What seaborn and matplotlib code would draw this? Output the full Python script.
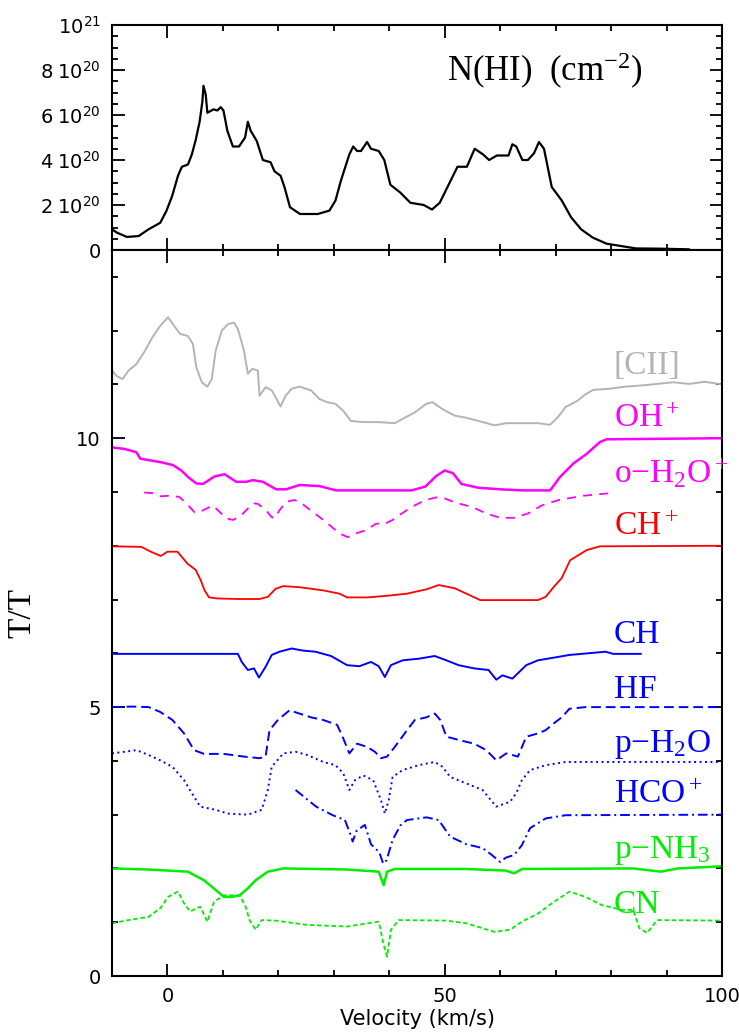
import matplotlib
matplotlib.use("Agg")
import numpy as np
import pandas as pd
import matplotlib.pyplot as plt
import seaborn as sns
from matplotlib.ticker import MultipleLocator, FixedLocator

# ---------------- data (velocity km/s, value) ----------------
nhi_pts = [(-10, 0.92), (-9.1, 0.77), (-7.3, 0.58), (-5.2, 0.62), (-3.4, 0.92), (-1.3, 1.21),
           (-0.2, 1.73), (0.85, 2.4), (1.9, 3.3), (2.6, 3.7), (3.7, 3.8), (4.4, 4.25), (5.1, 4.9),
           (5.8, 5.7), (6.3, 6.6), (6.5, 7.3), (6.9, 6.9), (7.2, 6.1), (8.3, 6.25), (9.0, 6.2),
           (9.6, 6.35), (10.1, 6.2), (10.8, 5.3), (11.8, 4.6), (12.9, 4.6), (14.0, 5.0), (14.5, 5.7),
           (15.0, 5.3), (16.1, 4.85), (17.2, 4.0), (18.6, 3.9), (19.3, 3.5), (20.4, 3.3), (21.1, 2.8),
           (22.1, 1.9), (23.9, 1.6), (27.1, 1.6), (29.2, 1.75), (30.3, 2.2), (31.3, 3.1), (32.8, 4.25),
           (33.5, 4.6), (34.2, 4.4), (34.9, 4.4), (36.0, 4.8), (36.7, 4.5), (38.1, 4.4), (39.1, 4.0),
           (40.2, 2.9), (42.0, 2.55), (43.8, 2.1), (46.2, 2.0), (47.7, 1.8), (49.1, 2.1), (50.5, 2.8),
           (52.3, 3.7), (54.0, 3.7), (55.4, 4.5), (56.9, 4.25), (58.0, 4.0), (59.4, 4.2), (61.5, 4.2),
           (62.2, 4.7), (62.9, 4.6), (64.0, 4.0), (65.0, 4.0), (66.1, 4.3), (67.0, 4.8), (67.9, 4.5),
           (69.3, 2.8), (71.1, 2.2), (72.8, 1.45), (74.6, 0.92), (76.7, 0.55), (79.2, 0.28),
           (81.7, 0.18), (84.5, 0.07), (88.8, 0.06), (94.1, 0.03)]   # units of 1e20 cm^-2

cii_pts = [(-10, 11.26), (-9.2, 11.16), (-8.1, 11.1), (-7.0, 11.26), (-5.6, 11.38), (-4.2, 11.6),
           (-2.7, 11.88), (-1.3, 12.09), (0.1, 12.25), (1.2, 12.09), (2.3, 11.94), (3.7, 11.9),
           (4.6, 11.75), (5.2, 11.32), (6.2, 11.04), (7.2, 10.96), (8.0, 11.1), (8.7, 11.63),
           (9.8, 12.0), (10.9, 12.12), (12.0, 12.15), (12.7, 12.03), (13.8, 11.63), (14.5, 11.2),
           (15.3, 11.29), (16.3, 11.26), (16.6, 10.79), (17.7, 10.95), (18.8, 10.89), (19.5, 10.76),
           (20.4, 10.59), (21.3, 10.79), (22.4, 10.92), (23.8, 10.96), (25.9, 10.89), (27.4, 10.73),
           (28.8, 10.67), (30.3, 10.64), (31.7, 10.51), (33.1, 10.32), (35.3, 10.3), (38.1, 10.3),
           (41.0, 10.28), (42.4, 10.36), (44.6, 10.48), (46.7, 10.64), (47.8, 10.67), (49.6, 10.54),
           (51.8, 10.42), (53.9, 10.38), (56.1, 10.32), (59.0, 10.24), (61.1, 10.28), (64.0, 10.28),
           (66.8, 10.28), (69.0, 10.25), (70.4, 10.39), (71.8, 10.58), (74.0, 10.7), (75.4, 10.82),
           (76.8, 10.9), (79.7, 10.92), (82.6, 10.96), (85.4, 10.98), (88.3, 11.01), (91.2, 11.04),
           (94.1, 11.01), (96.9, 11.05), (100, 11.0)]

ohp_pts = [(-10, 9.83), (-7.7, 9.8), (-5.6, 9.74), (-4.9, 9.62), (-1, 9.55), (1, 9.5), (2.5, 9.4),
           (3.7, 9.28), (5.2, 9.16), (6.4, 9.15), (8.5, 9.29), (10.3, 9.33), (12.4, 9.19), (14.2, 9.19),
           (15.4, 9.22), (17.2, 9.19), (19.6, 9.05), (21.4, 9.05), (23.8, 9.13), (27.4, 9.11),
           (30.4, 9.03), (33.4, 9.03), (44, 9.03), (46.5, 9.1), (48.5, 9.3), (50, 9.4), (51.5, 9.35),
           (53, 9.15), (56, 9.08), (60, 9.05), (64, 9.03), (69, 9.03), (70.8, 9.28), (73.2, 9.53),
           (75.6, 9.71), (78, 9.93), (79.2, 9.98), (100, 10.0)]

oh2op_pts = [(-4.2, 8.99), (-2.7, 8.98), (-1.2, 8.92), (0.3, 8.93), (2.1, 8.91), (3.4, 8.79),
             (4.9, 8.62), (5.8, 8.63), (7.0, 8.69), (8.2, 8.75), (9.4, 8.63), (10.6, 8.51),
             (11.8, 8.48), (13.0, 8.54), (14.2, 8.66), (15.4, 8.79), (16.3, 8.78), (17.8, 8.66),
             (18.7, 8.54), (19.3, 8.51), (20.2, 8.66), (21.4, 8.82), (22.9, 8.85), (23.8, 8.82),
             (26.2, 8.63), (28.6, 8.44), (31.0, 8.23), (32.5, 8.16), (34.0, 8.23), (35.8, 8.29),
             (37.6, 8.41), (39.4, 8.42), (40.6, 8.48), (41.8, 8.57), (44, 8.72), (46.5, 8.85),
             (48.5, 8.9), (50, 8.88), (52, 8.8), (55, 8.72), (57.5, 8.6), (60, 8.52), (62.5, 8.52),
             (65, 8.6), (67.5, 8.75), (70.5, 8.85), (75, 8.93), (80, 8.98)]

chp_pts = [(-10, 7.99), (-4.7, 7.98), (-3.0, 7.89), (-1.2, 7.81), (0, 7.89), (1.8, 7.89), (3.6, 7.67),
           (5.1, 7.55), (6.0, 7.36), (6.7, 7.17), (7.5, 7.04), (9, 7.02), (13.0, 7.01), (16.6, 7.01),
           (18.1, 7.05), (19.5, 7.2), (20.9, 7.25), (23.8, 7.23), (28.1, 7.17), (31.0, 7.11),
           (32.4, 7.04), (36.0, 7.04), (39.6, 7.07), (43.2, 7.11), (46.7, 7.19), (48.9, 7.27),
           (51.8, 7.21), (53.9, 7.11), (56.4, 6.99), (60.4, 6.99), (66.8, 6.99), (68.2, 7.05),
           (69.7, 7.24), (71.1, 7.4), (72.6, 7.73), (75.6, 7.92), (78, 7.99), (100, 8.0)]

ch_pts = [(-10, 5.99), (12.7, 5.99), (13.4, 5.84), (14.5, 5.69), (15.6, 5.72), (16.5, 5.55),
          (17.7, 5.75), (18.8, 5.97), (20.2, 6.03), (22.4, 6.09), (24.5, 6.05), (26.7, 6.03),
          (29.5, 5.95), (32.4, 5.78), (34.6, 5.76), (36.7, 5.84), (38.1, 5.76), (39.2, 5.56),
          (40.3, 5.78), (42.4, 5.87), (45.3, 5.9), (48.2, 5.95), (50.3, 5.87), (52.5, 5.78),
          (55.3, 5.72), (57.9, 5.69), (59.3, 5.51), (60.4, 5.59), (62.2, 5.53), (64.7, 5.78),
          (66.8, 5.87), (69.7, 5.92), (72.5, 5.97), (79.0, 6.03), (80.4, 5.99), (85.4, 5.99)]

hf_pts = [(-10, 5.0), (-6.3, 5.01), (-3.4, 5.0), (-1.3, 4.91), (0.9, 4.76), (3.0, 4.51), (4.8, 4.2),
          (6.6, 4.13), (10.2, 4.13), (13.8, 4.08), (16.6, 4.05), (17.7, 4.08), (18.4, 4.57),
          (19.9, 4.76), (22.0, 4.94), (23.8, 4.88), (25.9, 4.81), (28.1, 4.76), (30.6, 4.67),
          (31.7, 4.42), (32.8, 4.14), (34.2, 4.32), (36.0, 4.26), (37.4, 4.17), (38.5, 4.05),
          (39.6, 4.08), (41.0, 4.26), (43.2, 4.57), (44.6, 4.76), (46.7, 4.81), (48.2, 4.88),
          (49.2, 4.76), (50.3, 4.45), (52.5, 4.39), (55.3, 4.32), (57.5, 4.2), (59.3, 4.01),
          (61.1, 4.14), (63.2, 4.08), (64.7, 4.45), (66.8, 4.51), (68.2, 4.57), (69.7, 4.7),
          (71.1, 4.81), (72.5, 4.97), (75.4, 5.0), (100, 5.0)]

ph2o_pts = [(-10, 4.14), (-7.7, 4.17), (-5.6, 4.2), (-3.4, 4.11), (-1.3, 4.01), (0.9, 3.89),
            (3.0, 3.64), (4.4, 3.4), (5.9, 3.15), (8.7, 3.09), (10.9, 3.02), (14.5, 3.0), (17.0, 3.09),
            (18.1, 3.46), (18.8, 3.89), (20.9, 4.14), (23.1, 4.17), (25.2, 4.11), (28.1, 3.98),
            (30.3, 3.92), (31.7, 3.77), (32.8, 3.46), (33.8, 3.64), (35.3, 3.73), (37.1, 3.64),
            (38.5, 3.27), (39.2, 3.02), (39.9, 3.27), (40.6, 3.7), (42.4, 3.83), (45.3, 3.92),
            (48.2, 3.98), (49.6, 3.89), (51.0, 3.7), (53.9, 3.58), (56.8, 3.46), (59.3, 3.15),
            (61.8, 3.24), (62.9, 3.4), (63.9, 3.64), (65.4, 3.83), (68.2, 3.92), (71.8, 3.98),
            (100, 3.98)]

hcop_pts = [(23.1, 3.46), (25.0, 3.3), (26.8, 3.15), (29.8, 2.99), (32.0, 2.9), (32.9, 2.66),
            (33.4, 2.5), (34.1, 2.7), (35.6, 2.81), (36.7, 2.45), (38.2, 2.3), (38.9, 2.09),
            (39.5, 2.15), (40.6, 2.53), (42.0, 2.8), (43.2, 2.9), (46.7, 2.95), (48.9, 2.9),
            (51.0, 2.59), (53.9, 2.45), (56.8, 2.38), (58.5, 2.25), (60.0, 2.12), (61.0, 2.2),
            (62.5, 2.25), (63.9, 2.43), (65.4, 2.75), (68.2, 2.93), (71.8, 2.99), (100, 3.0)]

pnh3_pts = [(-10, 2.0), (-3.4, 1.98), (3.7, 1.94), (6.6, 1.78), (8.7, 1.6), (10.2, 1.47), (11.6, 1.47),
            (13.0, 1.5), (14.5, 1.63), (15.9, 1.78), (18.1, 1.94), (20.9, 2.0), (32.4, 1.98),
            (38.1, 1.94), (39.0, 1.69), (39.6, 1.94), (41.0, 1.99), (53.9, 1.99), (61.0, 1.96),
            (62.5, 1.91), (64.0, 1.99), (84.0, 2.0), (89.0, 1.94), (92.0, 2.0), (100, 2.04)]

cn_pts = [(-10, 0.98), (-7.0, 1.04), (-3.4, 1.1), (-1.3, 1.26), (0.1, 1.47), (1.9, 1.57), (3.0, 1.35),
          (4.1, 1.2), (5.9, 1.29), (7.2, 1.01), (8.4, 1.38), (10.2, 1.5), (13.0, 1.5), (14.1, 1.29),
          (14.8, 1.04), (15.9, 0.86), (17.0, 1.04), (19.5, 1.03), (25.2, 0.95), (32.4, 0.92),
          (38.1, 1.01), (39.0, 0.58), (39.6, 0.36), (40.3, 0.86), (41.7, 1.04), (50.3, 1.03),
          (53.9, 0.98), (59.0, 0.82), (61.8, 0.86), (63.9, 1.01), (66.8, 1.16), (69.7, 1.38),
          (72.5, 1.57), (75.4, 1.47), (78.3, 1.32), (81.9, 1.23), (84.0, 1.23), (85.1, 0.89),
          (86.5, 0.8), (88.3, 1.04), (100, 1.03)]

species_labels = ["[CII]", "OH$^+$", "o$-$H$_2$O$^+$", "CH$^+$", "CH", "HF",
                  "p$-$H$_2$O", "HCO$^+$", "p$-$NH$_3$", "CN"]
label_baselines = [11.2, 10.2, 9.18, 8.2, 6.19, 5.17, 4.16, 3.21, 2.19, 1.17]

top_yticks = [0, 2e20, 4e20, 6e20, 8e20, 1e21]
top_yticklabels = ["0", r"$\mathsf{2\ 10^{20}}$", r"$\mathsf{4\ 10^{20}}$",
                   r"$\mathsf{6\ 10^{20}}$", r"$\mathsf{8\ 10^{20}}$", r"$\mathsf{10^{21}}$"]
x_ticks = [0, 50, 100]
bot_yticks = [0, 5, 10]

# ---------------- styles ----------------
GRAY = "#b4b4b4"
MAG = "#ff00ff"
RED = "#ff0000"
BLUE = "#0000ff"
GREEN = "#00ee00"

series = [
    (cii_pts, GRAY, "-", 1.4),
    (ohp_pts, MAG, "-", 1.8),
    (oh2op_pts, MAG, (0, (5, 4)), 1.3),
    (chp_pts, RED, "-", 1.3),
    (ch_pts, BLUE, "-", 1.4),
    (hf_pts, BLUE, (0, (5, 2.5)), 1.4),
    (ph2o_pts, BLUE, (0, (1, 1.8)), 1.4),
    (hcop_pts, BLUE, (0, (5, 2, 1, 2)), 1.4),
    (pnh3_pts, GREEN, "-", 1.8),
    (cn_pts, GREEN, (0, (2.5, 1.5)), 1.3),
]
label_colors = [GRAY, MAG, MAG, RED, BLUE, BLUE, BLUE, BLUE, GREEN, GREEN]

sns.set_style("ticks")
plt.rcParams["font.family"] = ["DejaVu Sans"]
plt.rcParams["mathtext.fontset"] = "custom"
plt.rcParams["mathtext.rm"] = "Liberation Serif"
plt.rcParams["mathtext.it"] = "Liberation Serif:italic"
plt.rcParams["mathtext.sf"] = "DejaVu Sans"
plt.rcParams["axes.edgecolor"] = "black"
plt.rcParams["axes.linewidth"] = 1.5
plt.rcParams["text.color"] = "black"
plt.rcParams["axes.labelcolor"] = "black"
plt.rcParams["xtick.color"] = "black"
plt.rcParams["ytick.color"] = "black"

W, H = 739, 1035
fig = plt.figure(figsize=(W / 100, H / 100), dpi=100)
L, R = 112, 722
ax1 = fig.add_axes([L / W, 1 - 250 / H, (R - L) / W, 225 / H])
ax2 = fig.add_axes([L / W, 1 - 976 / H, (R - L) / W, 726 / H])

# top panel
df_nhi = pd.DataFrame(nhi_pts, columns=["v", "n"])
df_nhi["n"] = df_nhi["n"] * 1e20
sns.lineplot(data=df_nhi, x="v", y="n", ax=ax1, color="black", lw=1.6,
             estimator=None, sort=False)
ax1.set_xlim(-10, 100)
ax1.set_ylim(0, 1e21)
ax1.yaxis.set_major_locator(FixedLocator(top_yticks))
ax1.set_yticklabels(top_yticklabels)
ax1.yaxis.set_minor_locator(MultipleLocator(0.5e20))
ax1.xaxis.set_major_locator(FixedLocator(x_ticks))
ax1.xaxis.set_minor_locator(MultipleLocator(10))
ax1.tick_params(axis="x", labelbottom=False)
ax1.set_xlabel("")
ax1.set_ylabel("")
ax1.text(50.4, 7.48e20, "N(HI)  (cm$^{-2}$)", fontsize=25, family="Liberation Serif",
         color="black", ha="left", va="baseline")

# bottom panel
for pts, col, ls, lw in series:
    d = pd.DataFrame(pts, columns=["v", "t"])
    sns.lineplot(data=d, x="v", y="t", ax=ax2, color=col, lw=lw, linestyle=ls,
                 estimator=None, sort=False)

for lab, yb, col in zip(species_labels, label_baselines, label_colors):
    ax2.text(80.5, yb, lab, fontsize=24, color=col, family="Liberation Serif",
             ha="left", va="baseline", clip_on=False)

ax2.set_xlim(-10, 100)
ax2.set_ylim(0, 13.5)
ax2.xaxis.set_major_locator(FixedLocator(x_ticks))
ax2.xaxis.set_minor_locator(MultipleLocator(10))
ax2.yaxis.set_major_locator(FixedLocator(bot_yticks))
ax2.yaxis.set_minor_locator(MultipleLocator(1))
ax2.set_xlabel("Velocity (km/s)", fontsize=15, labelpad=2, color="black")
ax2.set_ylabel("T/T", fontsize=24, family="Liberation Serif", color="black")
ax2.yaxis.set_label_coords(-0.123, 0.5)

for ax in (ax1, ax2):
    ax.tick_params(which="both", direction="in", top=True, right=True, width=1.3,
                   labelsize=14, colors="black")
    ax.tick_params(which="major", length=9, pad=8)
    ax.tick_params(which="minor", length=4.5)
    for s in ax.spines.values():
        s.set_linewidth(1.5)
        s.set_color("black")

fig.savefig("out.png", dpi=100, facecolor="white")
